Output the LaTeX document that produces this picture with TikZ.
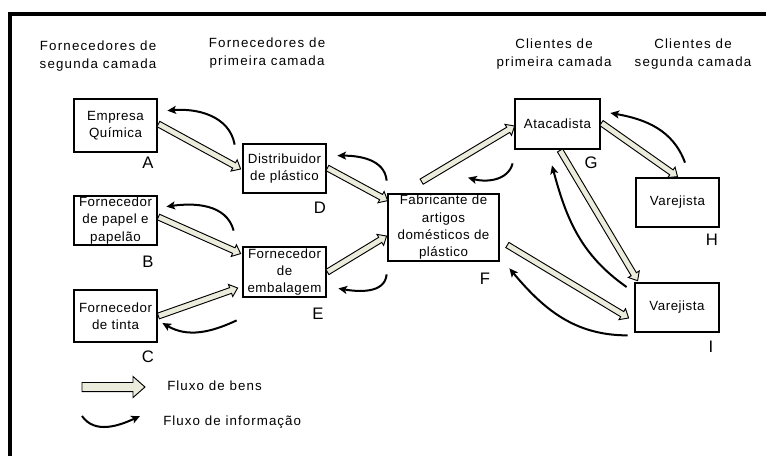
\documentclass[tikz,border=0pt]{standalone}
\usepackage{fontspec}
\setmainfont{Liberation Sans}[LetterSpace=4]
\usetikzlibrary{calc,arrows.meta}
\definecolor{goodsfill}{RGB}{236,236,220}

% block arrow dimensions (half shaft width, half head width, head length)
\def\shafthw{2.25pt}
\def\headhw{4.8pt}
\def\headlen{5.6pt}

\tikzset{
  box/.style={draw, line width=1.7pt, inner sep=0pt, align=center,
    font=\fontsize{10}{13}\selectfont},
  tag/.style={inner sep=0pt, font=\fontsize{12.5}{14}\selectfont},
  header/.style={inner sep=0pt, align=center,
    font=\fontsize{10}{13.5}\selectfont\addfontfeature{LetterSpace=9}},
  legendtext/.style={inner sep=0pt, anchor=west,
    font=\fontsize{10}{12}\selectfont\addfontfeature{LetterSpace=8}},
  bigblock/.code={\def\shafthw{3.4pt}\def\headhw{7.9pt}\def\headlen{9pt}},
  goods/.style={draw=black, line width=0.7pt, fill=goodsfill, to path={
    ($(\tikztostart)!\shafthw!90:(\tikztotarget)$)
    -- ($(\tikztotarget)!\headlen!(\tikztostart)!\shafthw!90:(\tikztotarget)$)
    -- ($(\tikztotarget)!\headlen!(\tikztostart)!\headhw!90:(\tikztotarget)$)
    -- (\tikztotarget)
    -- ($(\tikztotarget)!\headlen!(\tikztostart)!\headhw!-90:(\tikztotarget)$)
    -- ($(\tikztotarget)!\headlen!(\tikztostart)!\shafthw!-90:(\tikztotarget)$)
    -- ($(\tikztostart)!\shafthw!-90:(\tikztotarget)$)
    -- cycle}},
  info/.style={line width=1.5pt, -{Stealth[length=6.5pt,width=6pt,inset=1.5pt]}},
}

\begin{document}
\begin{tikzpicture}[x=0.75pt, y=-0.75pt]
\useasboundingbox (0,0) rectangle (766,455);
\clip (0,0) rectangle (766,455);
\fill[white] (0,0) rectangle (766,455);

% outer frame
\draw[line width=2.6pt] (10,14) rectangle (800,490);

% column headers
\node[header] (h1) at (98,56)  {Fornecedores de\\segunda camada};
\node[header] (h2) at (267,53) {Fornecedores de\\primeira camada};
\node[header] (h3) at (554,54) {Clientes de\\primeira camada};
\node[header] (h4) at (693,54) {Clientes de\\segunda camada};

% companies
\node[box, minimum width=62.6pt, minimum height=40.1pt] (A) at (115.5,125.5) {Empresa\\Química};
\node[box, minimum width=62.6pt, minimum height=37.1pt] (B) at (115.5,220.5) {Fornecedor\\de papel e\\papelão};
\node[box, minimum width=62.6pt, minimum height=39.4pt] (C) at (115.5,316) {Fornecedor\\de tinta};
\node[box, minimum width=62.6pt, minimum height=37.1pt] (D) at (284.5,168.5) {Distribuidor\\de plástico};
\node[box, minimum width=62.6pt, minimum height=37.9pt] (E) at (284.5,272) {Fornecedor\\de\\embalagem};
\node[box, minimum width=83.6pt, minimum height=50.6pt] (F) at (443.5,227.5) {Fabricante de\\artigos\\domésticos de\\plástico};
\node[box, minimum width=64.1pt, minimum height=37.9pt] (G) at (557.5,124) {Atacadista};
\node[box, minimum width=62.6pt, minimum height=37.1pt] (H) at (677.5,202.5) {Varejista};
\node[box, minimum width=63.4pt, minimum height=37.1pt] (I) at (677,307.5) {Varejista};

% letters
\node[tag] (tA) at (148,163) {A};
\node[tag] (tB) at (148,262) {B};
\node[tag] (tC) at (148,357) {C};
\node[tag] (tD) at (320,208) {D};
\node[tag] (tE) at (318,314) {E};
\node[tag] (tF) at (485,279) {F};
\node[tag] (tG) at (591,163) {G};
\node[tag] (tH) at (712,240) {H};
\node[tag] (tI) at (711,347) {I};

% flow of goods
\draw[goods] ($(A.east)+(0,-1.5)$) to ($(D.west)+(-1,0.5)$);
\draw[goods] ($(D.east)+(0,-0.5)$) to ($(F.north west)+(1,8)$);
\draw[goods] ($(B.east)+(0,-3.5)$) to ($(E.north west)+(-1,8)$);
\draw[goods] (C.east) to ($(E.west)+(-4,16)$);
\draw[goods] (E.east) to ($(F.west)+(0,8.5)$);
\draw[goods] ($(F.north west)+(35,-11)$) to ($(G.west)+(1,2)$);
\draw[goods] ($(G.east)+(0,-1)$) to (H.north);
\draw[goods] ($(G.south)+(2.5,0)$) to ($(I.north west)+(4,-1)$);
\draw[goods] ($(F.east)+(7,17.5)$) to ($(I.west)+(-5,10.5)$);

% flow of information
\draw[info] ($(D.north west)+(-7,2)$) to[out=100,in=5] ($(A.north east)+(9,13)$);
\draw[info] ($(F.north west)+(0,-12)$) to[out=95,in=0] ($(D.north east)+(10,13)$);
\draw[info] ($(E.north west)+(-8,-15)$) to[out=105,in=8] ($(B.north east)+(8,12)$);
\draw[info] ($(E.south west)+(-5,22)$) to[out=205,in=-30] ($(C.east)+(4,7)$);
\draw[info] ($(F.south west)+(0,12)$) to[out=265,in=-10] ($(E.south east)+(11,-10)$);
\draw[info] ($(G.south west)+(-1,13)$) to[out=-105,in=-15] ($(F.north)+(24.5,-15)$);
\draw[info] ($(H.north)+(7.5,-14)$) to[out=110,in=-10] ($(G.east)+(9,-11)$);
\draw[info] ($(I.west)+(-7,-20.5)$) to[out=145,in=-75] ($(G.south)+(-5.5,15)$);
\draw[info] ($(I.south west)+(-6,2)$) to[out=180,in=-50] ($(F.south east)+(9,6)$);

% legend
\coordinate (lg0) at (82,387);
\coordinate (lg1) at (145,387);
\draw[goods, bigblock] (lg0) to (lg1);
\node[legendtext] (lgt) at (167,386) {Fluxo de bens};
\coordinate (li0) at (82,416);
\coordinate (li1) at (140,416);
\draw[info] (li0) to[out=-55,in=205] (li1);
\node[legendtext] (lit) at (163,422) {Fluxo de informação};
\end{tikzpicture}
\end{document}
